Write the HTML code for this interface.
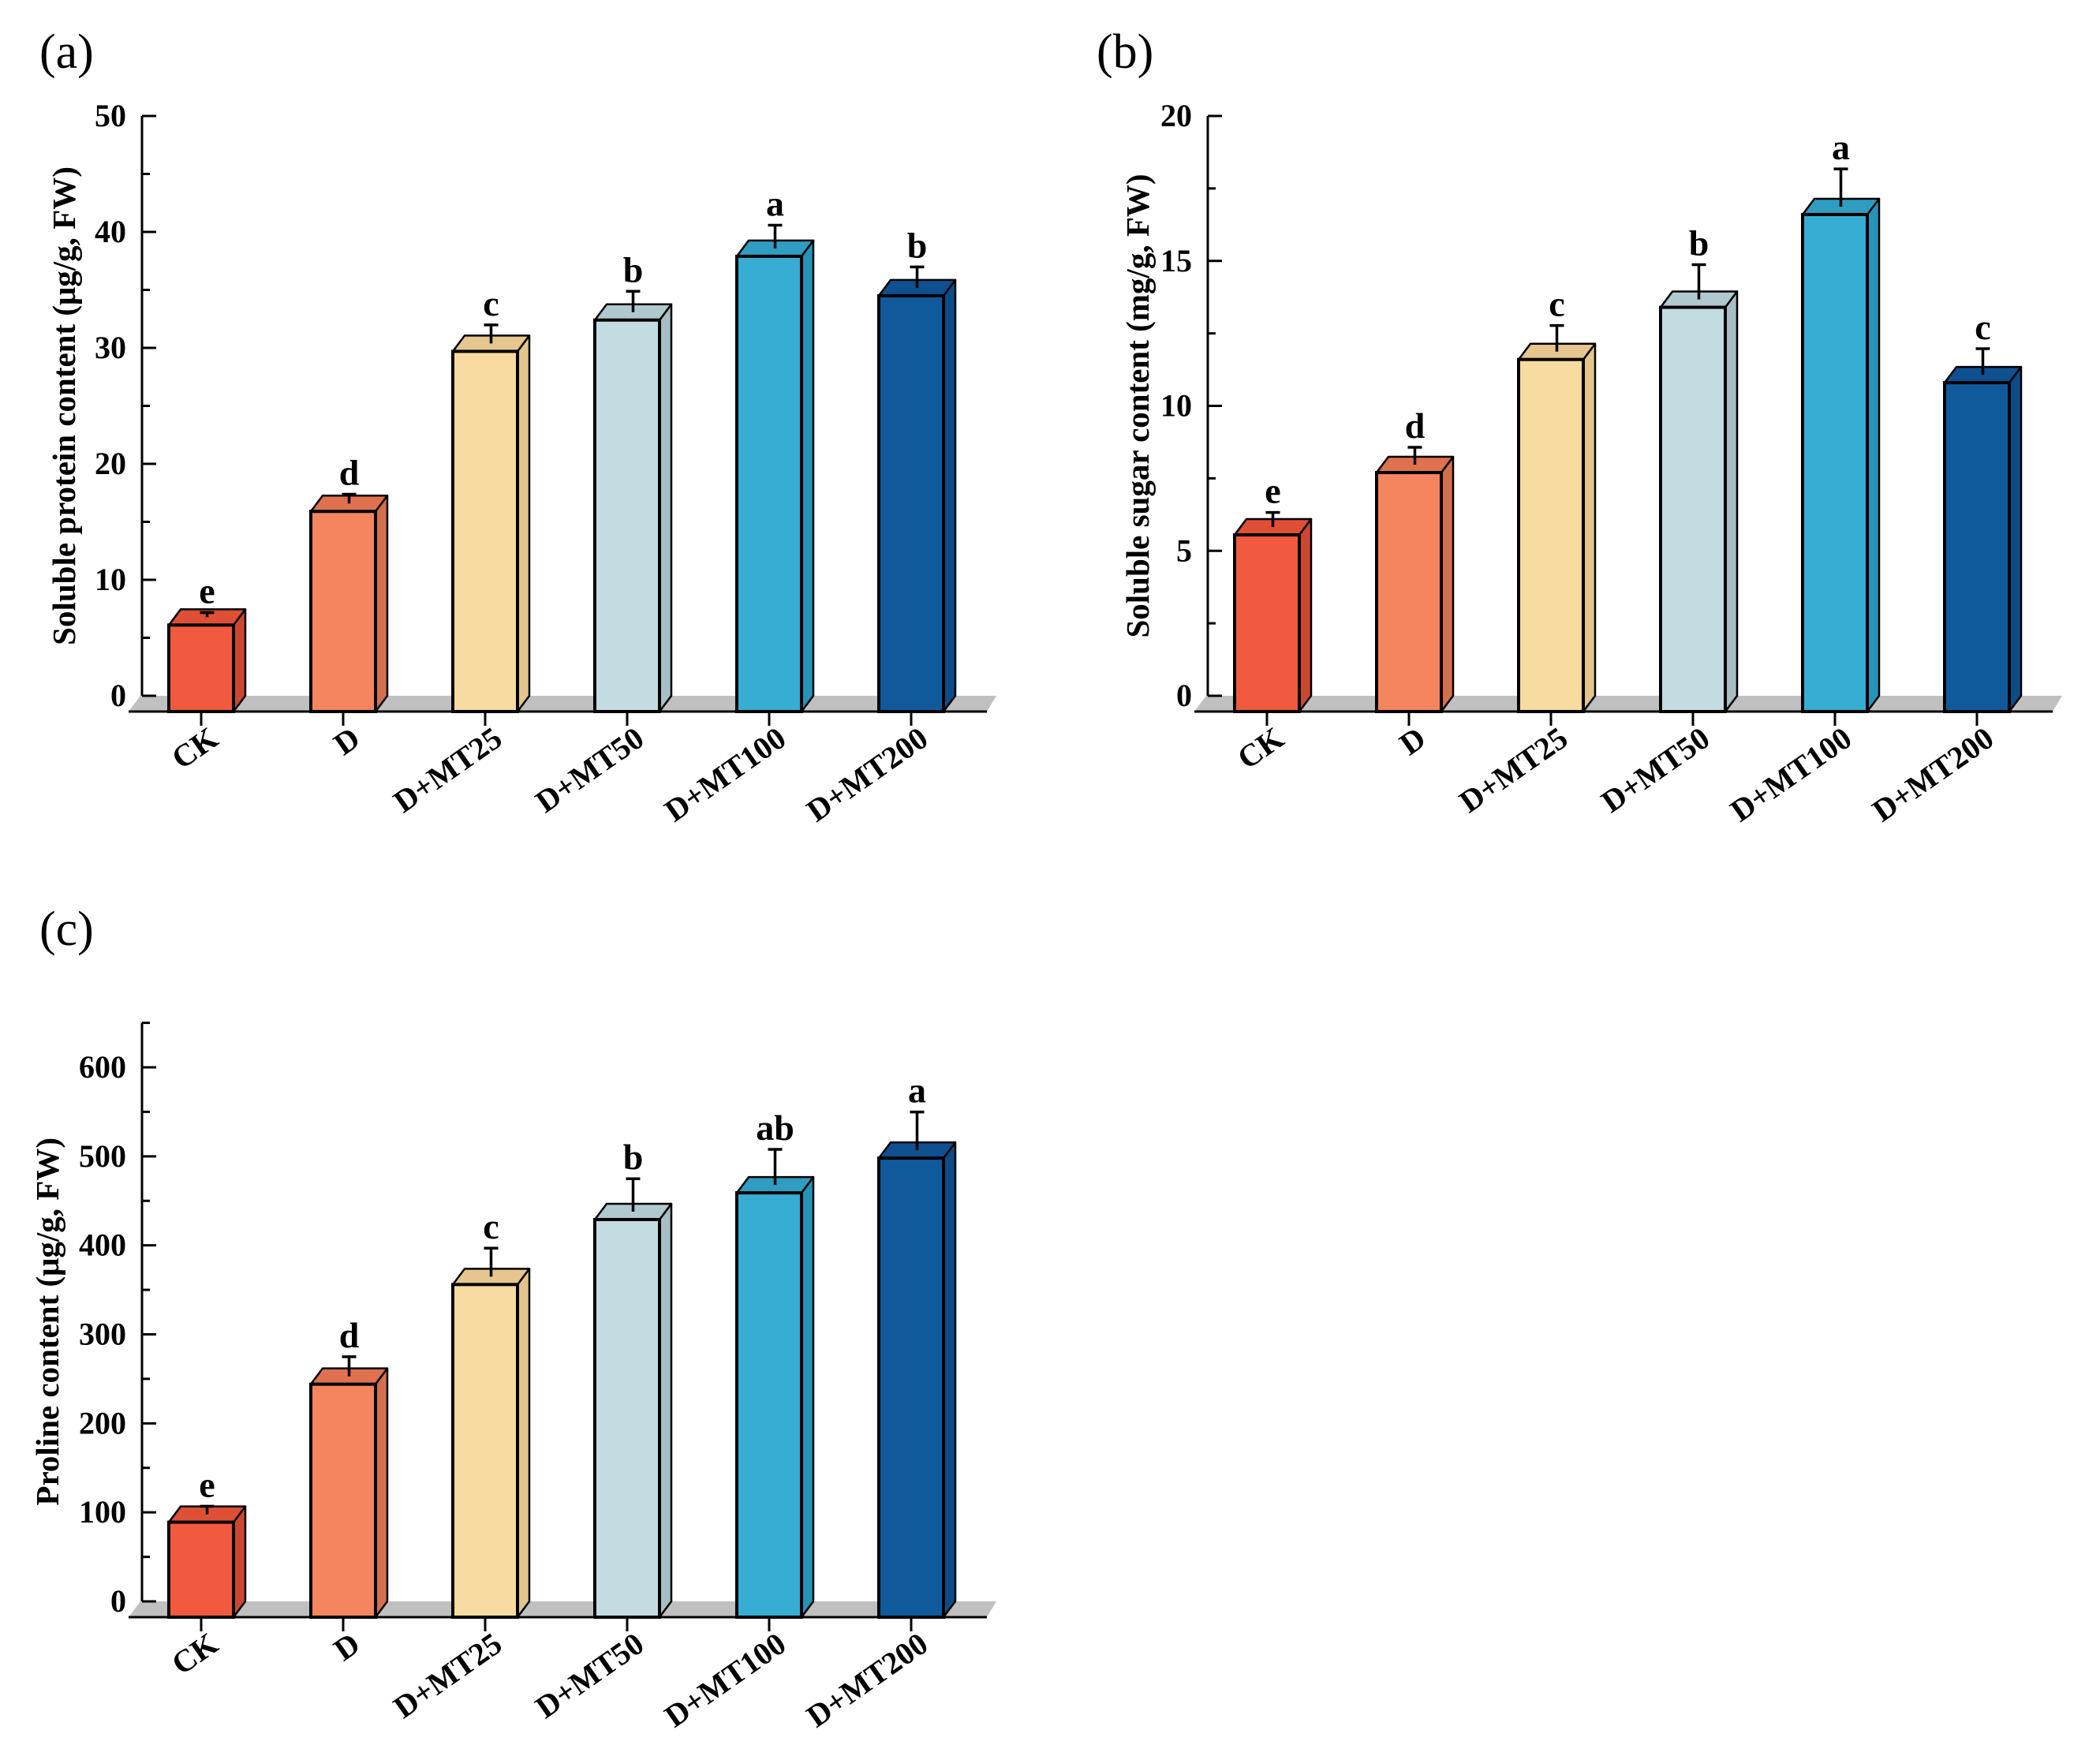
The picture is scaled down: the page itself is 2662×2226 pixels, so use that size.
<!DOCTYPE html>
<html><head><meta charset="utf-8"><style>
html,body{margin:0;padding:0;background:#fff;}
svg{display:block;font-family:"Liberation Serif",serif;}
</style></head><body>
<svg id="fig" width="2662" height="2226" viewBox="0 0 2662 2226" xmlns="http://www.w3.org/2000/svg"></svg>
<script>
const categories = ["CK","D","D+MT25","D+MT50","D+MT100","D+MT200"];
const proteinValues = [6.1, 15.9, 29.7, 32.4, 37.9, 34.5];
const proteinErrors = [0.4, 0.8, 1.6, 1.8, 2.0, 1.8];
const proteinLetters = ["e","d","c","b","a","b"];
const sugarValues = [5.55, 7.7, 11.6, 13.4, 16.6, 10.8];
const sugarErrors = [0.5, 0.6, 0.9, 1.2, 1.3, 0.9];
const sugarLetters = ["e","d","c","b","a","c"];
const prolineValues = [89, 244, 356, 429, 459, 498];
const prolineErrors = [9, 22, 32, 37, 40, 43];
const prolineLetters = ["e","d","c","b","ab","a"];
const proteinTicks = [0,10,20,30,40,50];
const sugarTicks = [0,5,10,15,20];
const prolineTicks = [0,100,200,300,400,500,600];

const faceColors = ["#F15A3E","#F5855F","#F8DBA1","#C2DCE2","#37ADD3","#105A9C"];
const topColors  = ["#DE4F36","#E0714F","#E6C68E","#AFC9CF","#2F9DC2","#0E5090"];
const sideColors = ["#CC4731","#D46F4E","#E2C48D","#A6BEC4","#2693B8","#0D4C86"];

const NS="http://www.w3.org/2000/svg";
const svg=document.getElementById('fig');
function mk(tag,attrs,parent){const e=document.createElementNS(NS,tag);for(const k in attrs)e.setAttribute(k,attrs[k]);(parent||svg).appendChild(e);return e;}

function panel(opt){
  const g=mk('g',{});
  
  
  const ax=opt.ax, y0=opt.y0, yTop=opt.yTop, maxV=opt.maxV, axisMax=opt.axisMax;
  const Y=v=>y0-(v/maxV)*(y0-yTop);
  const floorB=y0+20, dx=15, dy=20, bw=82, x0=ax+34, step=180;
  const pl=mk('text',{x:opt.lx,y:opt.ly,'font-size':62},g); pl.textContent=opt.label;
   
  const fl=mk('polygon',{points:`${ax-17},${floorB} ${ax-2},${y0} ${ax+1083},${y0} ${ax+1071},${floorB}`,fill:'#C0C0C0'},g);
   
  const bl=mk('line',{x1:ax-17,y1:floorB,x2:ax+1071,y2:floorB,stroke:'#000','stroke-width':3},g);
   
  const yl=mk('line',{x1:ax,y1:Y(axisMax),x2:ax,y2:y0,stroke:'#000','stroke-width':3},g);
   
  const ticks=opt.ticks, half=(ticks[1]-ticks[0])/2;
  for(let v=0; v<=axisMax+1e-9; v+=half){
    const major=ticks.some(t=>Math.abs(t-v)<1e-9);
    const t=mk('line',{x1:ax,y1:Y(v),x2:ax+(major?18:10),y2:Y(v),stroke:'#000','stroke-width':3},g);
     
  }
  ticks.forEach(v=>{
    const t=mk('text',{x:ax-20,y:Y(v)+13,'font-size':40,'font-weight':'bold','text-anchor':'end'},g);
    t.textContent=v;
     
  });
  const tx=opt.tx, ty=(Y(axisMax)+y0)/2+opt.tyOff;
  const tt=mk('text',{x:tx,y:ty,'font-size':41,'font-weight':'bold','text-anchor':'middle',transform:`rotate(-90 ${tx} ${ty})`},g);
  tt.setAttribute('xml:space','preserve');
  tt.textContent=opt.title;
   
  opt.values.forEach((v,i)=>{
    const xl=x0+i*step, xr=xl+bw, yt=Y(v), cx=xl+bw/2;
    const bg=mk('g',{},g);
    
    
    mk('polygon',{points:`${xr},${yt} ${xr+dx},${yt-dy} ${xr+dx},${floorB-dy} ${xr},${floorB}`,fill:sideColors[i],stroke:'#000','stroke-width':2.5,'stroke-linejoin':'round'},bg);
    mk('polygon',{points:`${xl},${yt} ${xl+dx},${yt-dy} ${xr+dx},${yt-dy} ${xr},${yt}`,fill:topColors[i],stroke:'#000','stroke-width':2.5,'stroke-linejoin':'round'},bg);
    mk('rect',{x:xl,y:yt,width:bw,height:floorB-yt,fill:faceColors[i],stroke:'#000','stroke-width':4},bg);
    const ex=cx+dx/2, eb=yt-dy/2, et=Y(v+opt.errs[i])-dy/2;
    const eg=mk('g',{},g);
     
    mk('line',{x1:ex,y1:eb,x2:ex,y2:et,stroke:'#000','stroke-width':3.5},eg);
    mk('line',{x1:ex-9,y1:et,x2:ex+9,y2:et,stroke:'#000','stroke-width':3.5},eg);
    const lt=mk('text',{x:ex,y:et-12,'font-size':46,'font-weight':'bold','text-anchor':'middle'},g);
    lt.textContent=opt.letters[i];
     
    const xt=mk('line',{x1:cx,y1:floorB,x2:cx,y2:floorB+18,stroke:'#000','stroke-width':3},g);
     
    const lx=cx+24, ly=floorB+40;
    const lab=mk('text',{x:lx,y:ly,'font-size':40,'font-weight':'bold','text-anchor':'end',transform:`rotate(-35 ${lx} ${ly})`},g);
    lab.textContent=categories[i];
     
  });
}
panel({name:'panel-a-soluble-protein',label:'(a)',lx:50,ly:86,ax:180,y0:882,yTop:147,maxV:50,axisMax:50,ticks:proteinTicks,values:proteinValues,errs:proteinErrors,letters:proteinLetters,title:'Soluble protein content  (μg/g, FW)',tx:95,tyOff:0});
panel({name:'panel-b-soluble-sugar',label:'(b)',lx:1390,ly:86,ax:1531,y0:882,yTop:147,maxV:20,axisMax:20,ticks:sugarTicks,values:sugarValues,errs:sugarErrors,letters:sugarLetters,title:'Soluble sugar content  (mg/g, FW)',tx:1456,tyOff:0});
panel({name:'panel-c-proline',label:'(c)',lx:50,ly:1198,ax:180,y0:2030,yTop:1353,maxV:600,axisMax:650,ticks:prolineTicks,values:prolineValues,errs:prolineErrors,letters:prolineLetters,title:'Proline content (μg/g, FW)',tx:74,tyOff:12});
</script>
</body></html>
